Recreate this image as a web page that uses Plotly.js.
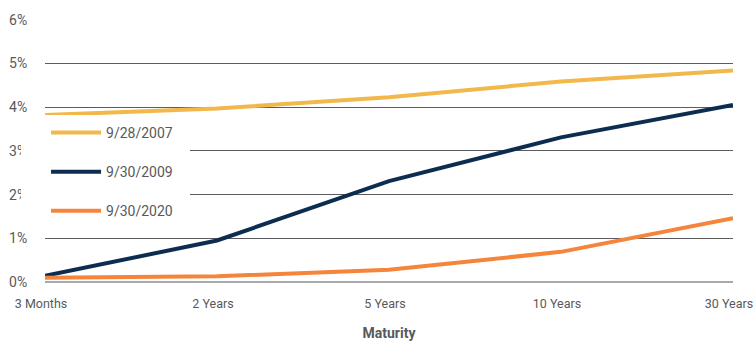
<!DOCTYPE html>
<html>
<head>
<meta charset="utf-8">
<script src="https://cdn.plot.ly/plotly-3.0.1.min.js"></script>
<style>html,body{margin:0;padding:0;background:#fff;}#chart{width:754px;height:345px;}</style>
</head>
<body>
<div id="chart"></div>
<script>
const maturities = ["3 Months", "2 Years", "5 Years", "10 Years", "30 Years"];
const seriesNames = ["9/28/2007", "9/30/2009", "9/30/2020"];
const yields2007 = [3.82, 3.97, 4.23, 4.59, 4.84];
const yields2009 = [0.14, 0.95, 2.31, 3.31, 4.05];
const yields2020 = [0.10, 0.13, 0.28, 0.69, 1.46];
const yTickVals = [0, 1, 2, 3, 4, 5, 6];
const yTickText = ["0%", "1%", "2%", "3%", "4%", "5%", "6%"];

const colors = ["#F2B84B", "#0C2D4F", "#F5853A"];
const allSeries = [yields2007, yields2009, yields2020];
const FONT = "Roboto, 'Liberation Sans', sans-serif";

const traces = allSeries.map((vals, i) => ({
  type: "scatter",
  mode: "lines",
  x: maturities,
  y: vals,
  name: seriesNames[i],
  legendgroup: "g" + i,
  line: {color: colors[i], width: 4},
  hoverinfo: "skip"
}));

const layout = {
  width: 754, height: 345,
  margin: {l: 45, r: 21, t: 19, b: 63},
  paper_bgcolor: "#ffffff",
  plot_bgcolor: "#ffffff",
  font: {family: FONT, color: "#58595B", size: 14},
  showlegend: true,
  legend: {
    x: 0.0015, xanchor: "left",
    y: 0.628, yanchor: "top",
    bgcolor: "rgba(255,255,255,0)",
    borderwidth: 0,
    tracegroupgap: 18,
    itemwidth: 50,
    font: {family: FONT, size: 14, color: "#58595B"}
  },
  shapes: [{
    type: "rect", xref: "paper", yref: "paper", layer: "above",
    x0: -24 / 688, x1: 145 / 688, y0: 57 / 263, y1: 167 / 263,
    fillcolor: "#ffffff", line: {width: 0}
  }],
  xaxis: {
    type: "category",
    range: [0, 4],
    showgrid: false,
    zeroline: false,
    showline: false,
    ticks: "outside",
    ticklen: 10,
    tickcolor: "rgba(0,0,0,0)",
    ticklabelshift: -4,
    tickfont: {family: FONT, size: 12.5, color: "#58595B"},
    title: {text: "<b>Maturity</b>", font: {family: FONT, size: 14, color: "#58595B"}, standoff: 18},
    fixedrange: true
  },
  yaxis: {
    range: [0, 6.02],
    tickvals: yTickVals,
    ticktext: yTickText,
    showgrid: true,
    gridcolor: "#5B5B60",
    gridwidth: 1,
    zeroline: true,
    zerolinecolor: "#A7A9AC",
    zerolinewidth: 2,
    showline: false,
    ticks: "outside",
    ticklen: 14,
    tickcolor: "rgba(0,0,0,0)",
    tickfont: {family: FONT, size: 14, color: "#58595B"},
    fixedrange: true
  }
};

Plotly.newPlot("chart", traces, layout, {displayModeBar: false, staticPlot: true});
</script>
</body>
</html>
